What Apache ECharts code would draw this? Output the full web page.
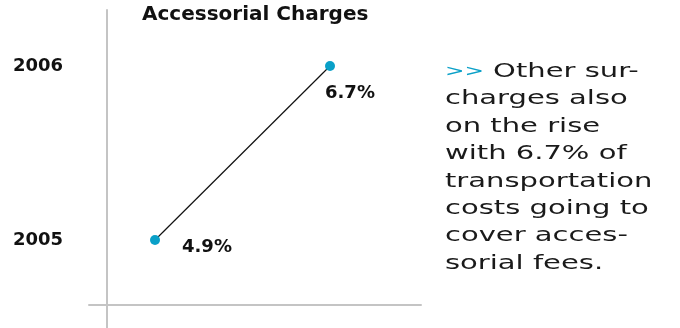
<!DOCTYPE html>
<html>
<head>
<meta charset="utf-8">
<style>
  html, body { margin: 0; padding: 0; background: #ffffff; }
  #chart { width: 680px; height: 328px; }
</style>
<script src="https://cdn.jsdelivr.net/npm/echarts@6/dist/echarts.min.js"></script>
</head>
<body>
<div id="chart"></div>
<script>
// Share of transportation costs spent on accessorial charges
const years = [2005, 2006];
const sharePct = [4.9, 6.7];
const yearLabels = ['2005', '2006'];
const titleText = 'Accessorial Charges';
const noteLines = [
  'Other sur-',
  'charges also',
  'on the rise',
  'with 6.7% of',
  'transportation',
  'costs going to',
  'cover acces-',
  'sorial fees.'
];

const ACCENT = '#0aa0c8';
const AXIS = '#c4c4c4';
const FONT = 'DejaVu Sans';

const points = years.map((y, i) => ({
  value: [sharePct[i], y],
  label: i === 0
    ? { position: [32, 12] }
    : { position: [0, 32] }
}));

const chart = echarts.init(document.getElementById('chart'), null, { renderer: 'canvas' });

chart.setOption({
  animation: false,
  backgroundColor: '#ffffff',
  title: {
    text: titleText,
    left: 142,
    top: 5,
    padding: 0,
    textStyle: { fontFamily: FONT, fontWeight: 'bold', fontSize: 20, color: '#111111' }
  },
  grid: [
    { left: 107, right: 259, top: 10, bottom: 0 },
    { left: 89, right: 259, top: 10, bottom: 23 }
  ],
  xAxis: [
    {
      gridIndex: 0, type: 'value', min: 4.4063, max: 7.636,
      show: false
    },
    {
      gridIndex: 1, type: 'value', min: 0, max: 1,
      axisLine: { show: true, lineStyle: { color: AXIS, width: 2 } },
      axisTick: { show: false },
      axisLabel: { show: false },
      splitLine: { show: false }
    }
  ],
  yAxis: [
    {
      gridIndex: 0, type: 'value', min: 2004.4943, max: 2006.3218,
      axisLine: { show: true, lineStyle: { color: AXIS, width: 2 } },
      axisTick: { show: false },
      splitLine: { show: false },
      axisLabel: {
        show: true,
        customValues: years,
        formatter: (v) => yearLabels[years.indexOf(Math.round(v))] || '',
        align: 'left',
        margin: 94,
        fontFamily: FONT,
        fontWeight: 'bold',
        fontSize: 18,
        color: '#111111'
      }
    },
    {
      gridIndex: 1, type: 'value', show: false
    }
  ],
  series: [
    {
      type: 'line',
      xAxisIndex: 0,
      yAxisIndex: 0,
      data: points,
      symbol: 'circle',
      symbolSize: 10,
      itemStyle: { color: ACCENT },
      lineStyle: { color: '#111111', width: 1.2 },
      label: {
        show: true,
        formatter: (p) => p.value[0].toFixed(1) + '%',
        align: 'left',
        verticalAlign: 'middle',
        fontFamily: FONT,
        fontWeight: 'bold',
        fontSize: 18,
        color: '#111111'
      },
      emphasis: { disabled: true }
    }
  ],
  graphic: [
    {
      type: 'text',
      x: 445,
      y: 58,
      scaleX: 1.45,
      style: {
        text: '{acc|>>} ' + noteLines.join('\n'),
        fontFamily: FONT,
        fontSize: 20,
        lineHeight: 27.4,
        fill: '#1a1a1a',
        rich: {
          acc: { fill: ACCENT, fontFamily: FONT, fontSize: 16, lineHeight: 27.4 }
        }
      }
    }
  ]
});
</script>
</body>
</html>
